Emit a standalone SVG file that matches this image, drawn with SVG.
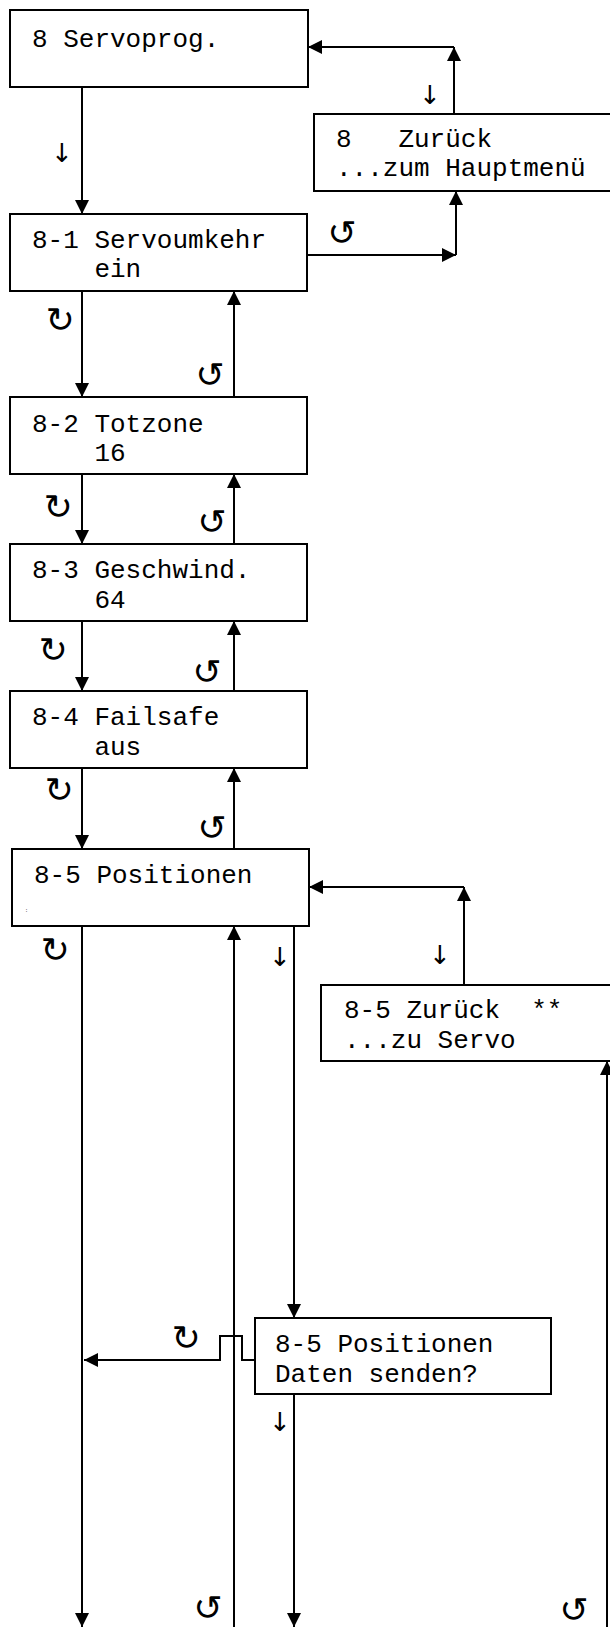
<svg xmlns="http://www.w3.org/2000/svg" width="610" height="1627" viewBox="0 0 610 1627">
<style>
.box{fill:#fff;stroke:#000;stroke-width:2}
.t{font-family:"Liberation Mono","Courier New",monospace;font-size:26px;fill:#000}
.c{fill:none;stroke:#000;stroke-width:2}
.dn{font-family:"DejaVu Sans",sans-serif;font-size:26px;fill:#000;text-anchor:middle}
.rot{font-family:"DejaVu Sans",sans-serif;font-size:35px;fill:#000;text-anchor:middle}
.tiny{font-family:"Liberation Mono",monospace;font-size:5px;fill:#000}
</style>
<defs>
<marker id="ah" viewBox="0 0 14 14" refX="14" refY="7" markerWidth="14" markerHeight="14" markerUnits="userSpaceOnUse" orient="auto">
<path d="M0,0 L14,7 L0,14 Z" fill="#000"/>
</marker>
</defs>
<g id="connectors">
<line class="c" x1="82" y1="87" x2="82" y2="214" marker-end="url(#ah)"/>
<line class="c" x1="454" y1="114" x2="454" y2="47" marker-end="url(#ah)"/>
<line class="c" x1="454" y1="47" x2="308" y2="47" marker-end="url(#ah)"/>
<line class="c" x1="307" y1="255" x2="456" y2="255" marker-end="url(#ah)"/>
<line class="c" x1="456" y1="255" x2="456" y2="191" marker-end="url(#ah)"/>
<line class="c" x1="82" y1="291" x2="82" y2="397" marker-end="url(#ah)"/>
<line class="c" x1="234" y1="397" x2="234" y2="291" marker-end="url(#ah)"/>
<line class="c" x1="82" y1="474" x2="82" y2="544" marker-end="url(#ah)"/>
<line class="c" x1="234" y1="544" x2="234" y2="474" marker-end="url(#ah)"/>
<line class="c" x1="82" y1="621" x2="82" y2="691" marker-end="url(#ah)"/>
<line class="c" x1="234" y1="691" x2="234" y2="621" marker-end="url(#ah)"/>
<line class="c" x1="82" y1="768" x2="82" y2="849" marker-end="url(#ah)"/>
<line class="c" x1="234" y1="849" x2="234" y2="768" marker-end="url(#ah)"/>
<line class="c" x1="464" y1="985" x2="464" y2="887" marker-end="url(#ah)"/>
<line class="c" x1="464" y1="887" x2="309" y2="887" marker-end="url(#ah)"/>
<line class="c" x1="82" y1="926" x2="82" y2="1627" marker-end="url(#ah)"/>
<line class="c" x1="234" y1="1627" x2="234" y2="926" marker-end="url(#ah)"/>
<line class="c" x1="294" y1="926" x2="294" y2="1318" marker-end="url(#ah)"/>
<path class="c" d="M255,1360 H242 V1336 H220 V1360 H84" marker-end="url(#ah)"/>
<line class="c" x1="294" y1="1394" x2="294" y2="1627" marker-end="url(#ah)"/>
<line class="c" x1="607" y1="1627" x2="607" y2="1061" marker-end="url(#ah)"/>
</g>
<g id="n8">
<rect class="box" x="10" y="10" width="298" height="77"/>
<text class="t" x="32" y="47" xml:space="preserve">8 Servoprog.</text>
</g>
<g id="n8z">
<rect class="box" x="314" y="114" width="310" height="77"/>
<text class="t" x="336" y="147" xml:space="preserve">8   Zurück</text>
<text class="t" x="336" y="176" xml:space="preserve">...zum Hauptmenü</text>
</g>
<g id="n81">
<rect class="box" x="10" y="214" width="297" height="77"/>
<text class="t" x="32" y="248" xml:space="preserve">8-1 Servoumkehr</text>
<text class="t" x="32" y="277" xml:space="preserve">    ein</text>
</g>
<g id="n82">
<rect class="box" x="10" y="397" width="297" height="77"/>
<text class="t" x="32" y="432" xml:space="preserve">8-2 Totzone</text>
<text class="t" x="32" y="461" xml:space="preserve">    16</text>
</g>
<g id="n83">
<rect class="box" x="10" y="544" width="297" height="77"/>
<text class="t" x="32" y="578" xml:space="preserve">8-3 Geschwind.</text>
<text class="t" x="32" y="608" xml:space="preserve">    64</text>
</g>
<g id="n84">
<rect class="box" x="10" y="691" width="297" height="77"/>
<text class="t" x="32" y="725" xml:space="preserve">8-4 Failsafe</text>
<text class="t" x="32" y="755" xml:space="preserve">    aus</text>
</g>
<g id="n85">
<rect class="box" x="12" y="849" width="297" height="77"/>
<text class="t" x="34" y="883" xml:space="preserve">8-5 Positionen</text>
<text class="tiny" x="25" y="912">:</text>
</g>
<g id="n85z">
<rect class="box" x="321" y="985" width="300" height="76"/>
<text class="t" x="344" y="1018" xml:space="preserve">8-5 Zurück  **</text>
<text class="t" x="344" y="1048" xml:space="preserve">...zu Servo</text>
</g>
<g id="n85d">
<rect class="box" x="255" y="1318" width="296" height="76"/>
<text class="t" x="275" y="1352" xml:space="preserve">8-5 Positionen</text>
<text class="t" x="275" y="1382" xml:space="preserve">Daten senden?</text>
</g>
<g id="labels">
<text class="dn" x="62" y="162">↓</text>
<text class="dn" x="430" y="104">↓</text>
<text class="dn" x="440" y="964">↓</text>
<text class="dn" x="280" y="966">↓</text>
<text class="dn" x="280" y="1431">↓</text>
<text class="rot" x="342" y="245">↺</text>
<text class="rot" x="60" y="332">↻</text>
<text class="rot" x="210" y="387">↺</text>
<text class="rot" x="58" y="519">↻</text>
<text class="rot" x="212" y="534">↺</text>
<text class="rot" x="53" y="662">↻</text>
<text class="rot" x="207" y="684">↺</text>
<text class="rot" x="59" y="802">↻</text>
<text class="rot" x="212" y="840">↺</text>
<text class="rot" x="55" y="962">↻</text>
<text class="rot" x="186" y="1350">↻</text>
<text class="rot" x="208" y="1620">↺</text>
<text class="rot" x="574" y="1622">↺</text>
</g>
</svg>
